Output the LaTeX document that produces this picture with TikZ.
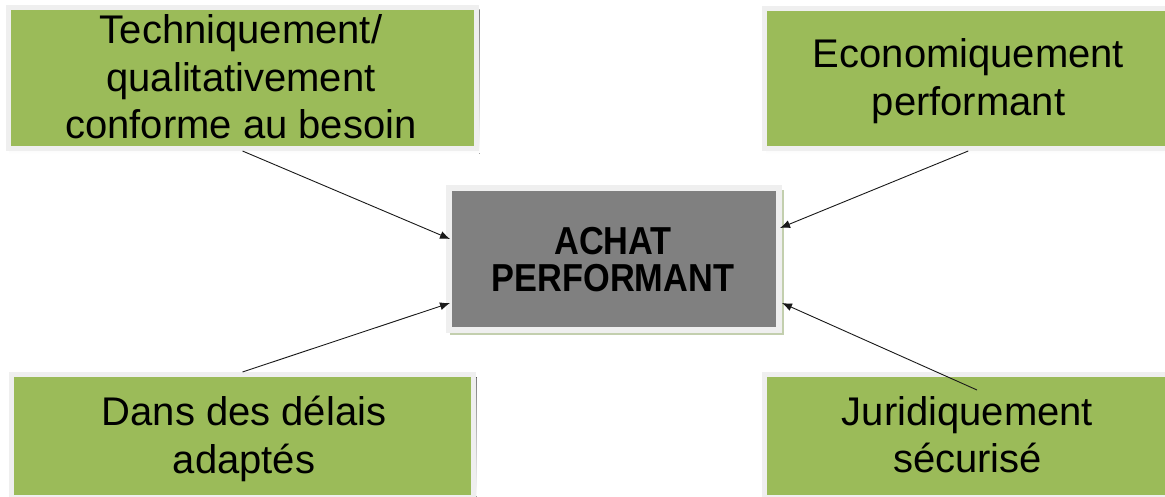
\documentclass[tikz,border=0pt]{standalone}
\usepackage{fontspec}
\setmainfont{Liberation Sans}
\usepackage{graphicx}
\usetikzlibrary{arrows.meta,calc}
\definecolor{boxgreen}{HTML}{9BBB59}
\definecolor{boxgray}{HTML}{808080}
\definecolor{rim}{HTML}{EFEFEF}
\definecolor{shade}{HTML}{A7AE95}
\definecolor{cshade}{HTML}{C3CFAE}
\begin{document}
\begin{tikzpicture}[x=1pt,y=-1pt,
  gbox/.style={draw=rim, line width=5pt, fill=boxgreen, inner sep=0pt},
  cbox/.style={draw=rim, line width=6pt, fill=boxgray, inner sep=0pt},
  lbl/.style={align=center, inner sep=0pt, font=\fontsize{40}{47.5}\selectfont},
  clbl/.style={align=center, inner sep=0pt, font=\fontsize{39}{37}\selectfont\bfseries},
  arr/.style={draw=black!90, line width=0.9pt, -{Latex[length=10pt,width=8pt]}}]
\useasboundingbox (0,0) rectangle (1165,497);
\clip (0,0) rectangle (1165,497);
\fill[white] (0,0) rectangle (1165,497);
% shadows
\fill[shade] (9,10) rectangle (479.5,154);
\fill[shade] (766,10) rectangle (1175,154);
\fill[shade] (12,377) rectangle (476.5,500);
\fill[shade] (766,377) rectangle (1175,500);
\fill[cshade] (450,190) rectangle (783.5,335);
% boxes
\node[gbox, minimum width=468pt, minimum height=141pt] (tl) at (242.5,78) {};
\node[gbox, minimum width=407.5pt, minimum height=140pt] (tr) at (968.25,78.5) {};
\node[gbox, minimum width=462pt, minimum height=123pt] (bl) at (242.5,436) {};
\node[gbox, minimum width=407.5pt, minimum height=123pt] (br) at (968.25,436) {};
\node[cbox, minimum width=330pt, minimum height=142pt] (c) at (614,259) {};
% labels
\node[lbl] (tlt) at (241,77) {Techniquement/\\qualitativement\\conforme au besoin};
\node[lbl] (trt) at (968.5,81.4) {Economiquement\\performant};
\node[lbl] (blt) at (244,438.7) {Dans des délais\\adaptés};
\node[lbl] (brt) at (967.5,434.5) {Juridiquement\\sécurisé};
\node[clbl] (ct) at (613,259.5) {\scalebox{0.88}[1]{ACHAT}\\\scalebox{0.88}[1]{PERFORMANT}};
% arrow ends
\coordinate (c1) at (450,239);
\coordinate (c2) at (780,228);
\coordinate (c3) at (450,303);
\coordinate (c4) at (782,303);
\coordinate (s4) at (977,390);
% arrows
\draw[arr] (tl.south) -- (c1);
\draw[arr] (tr.south) -- (c2);
\draw[arr] (bl.north) -- (c3);
\draw[arr] (s4) -- (c4);
\end{tikzpicture}
\end{document}
